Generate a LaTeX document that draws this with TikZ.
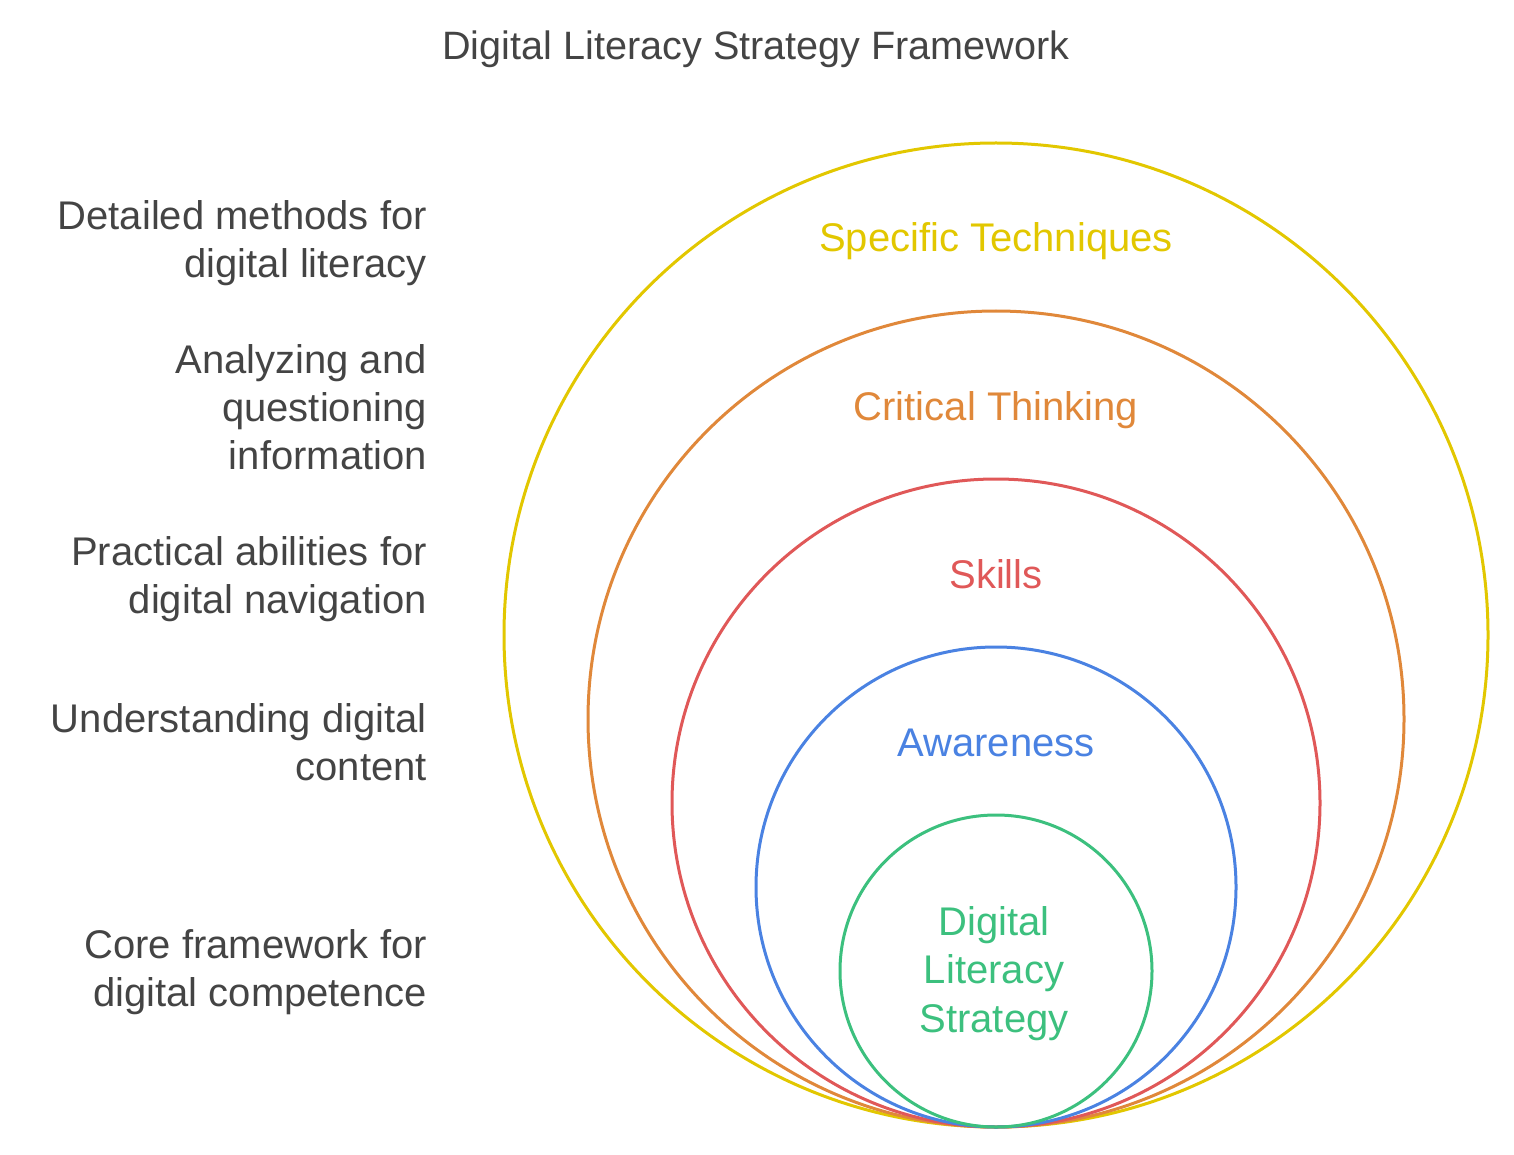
\documentclass[tikz,border=0pt]{standalone}
\usepackage{fontspec}
\setmainfont{Liberation Sans}
\usetikzlibrary{positioning}
\definecolor{txtgray}{HTML}{444444}
\definecolor{ringyellow}{HTML}{E2C700}
\definecolor{ringorange}{HTML}{E0883A}
\definecolor{ringred}{HTML}{E05858}
\definecolor{ringblue}{HTML}{4A82E2}
\definecolor{ringgreen}{HTML}{3CC07E}
\tikzset{
  desc/.style={anchor=base east, align=right, inner sep=0pt, text=txtgray,
    font=\fontsize{40}{48}\selectfont},
  ringlbl/.style={anchor=base, align=center, inner sep=0pt,
    font=\fontsize{40}{48.5}\selectfont},
  ring/.style={line width=3pt}
}
\begin{document}
\begin{tikzpicture}[x=1pt, y=-1pt]
  \useasboundingbox (0,0) rectangle (1514,1155);

  % title
  \node[anchor=base, inner sep=0pt, text=txtgray, font=\fontsize{39.6}{42}\selectfont] (title) at (756,60) {Digital Literacy Strategy Framework};

  % nested rings, all touching at the bottom
  \draw[ring, ringyellow] (996,635) circle[radius=492];
  \draw[ring, ringorange] (996,719) circle[radius=408];
  \draw[ring, ringred] (996,803) circle[radius=324];
  \draw[ring, ringblue] (996,887) circle[radius=240];
  \draw[ring, ringgreen] (996,971) circle[radius=156];

  % ring labels (base = last line)
  \node[ringlbl, text=ringyellow] (tech) at (996,252) {Specific Techniques};
  \node[ringlbl, text=ringorange] (crit) at (996,420) {Critical Thinking};
  \node[ringlbl, text=ringred] (skill) at (996,588) {Skills};
  \node[ringlbl, text=ringblue] (aware) at (996,756) {Awareness};
  \node[ringlbl, text=ringgreen] (core) at (994,1032) {Digital\\Literacy\\Strategy};

  % descriptions on the left
  \node[desc] (techtxt) at (427,278) {Detailed methods for\\digital literacy};
  \node[desc] (crittxt) at (427,469) {Analyzing and\\questioning\\information};
  \node[desc] (skilltxt) at (427,613) {Practical abilities for\\digital navigation};
  \node[desc] (awaretxt) at (427,780) {Understanding digital\\content};
  \node[desc] (coretxt) at (427,1006) {Core framework for\\digital competence};

\end{tikzpicture}
\end{document}
